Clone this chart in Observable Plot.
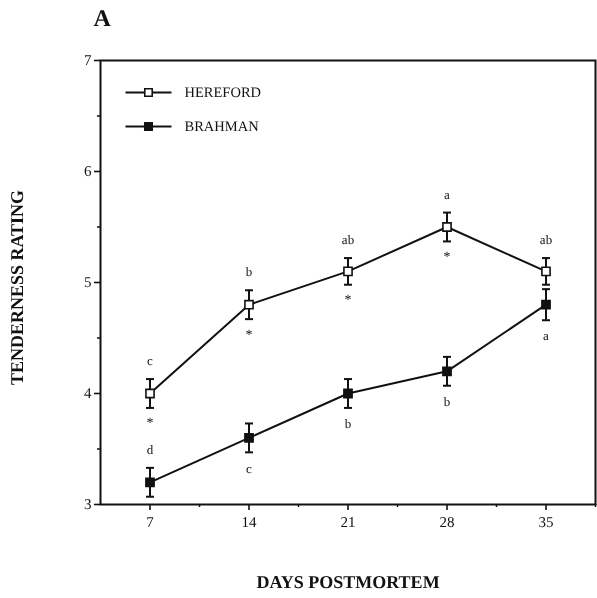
<!DOCTYPE html>
<html>
<head>
<meta charset="utf-8">
<script src="https://cdn.jsdelivr.net/npm/d3@7"></script>
<script src="https://cdn.jsdelivr.net/npm/@observablehq/plot@0.6"></script>
<style>
  html, body { margin: 0; padding: 0; background: #fff; }
  #chart { width: 597px; height: 598px; }
  #chart svg { will-change: transform; text-rendering: geometricPrecision; }
</style>
</head>
<body>
<div id="chart"></div>
<script>
// ---- data ----
const days = [7, 14, 21, 28, 35];
const herefordMean = [4.0, 4.8, 5.1, 5.5, 5.1];
const herefordSE = [0.13, 0.13, 0.12, 0.13, 0.12];
const brahmanMean = [3.2, 3.6, 4.0, 4.2, 4.8];
const brahmanSE = [0.13, 0.13, 0.13, 0.13, 0.14];
const herefordLetters = ["c", "b", "ab", "a", "ab"];
const brahmanLetters = ["d", "c", "b", "b", "a"];
const brahmanLetterAbove = [true, false, false, false, false];
const breedDiffers = [true, true, true, true, false]; // asterisk
const xTicks = [7, 14, 21, 28, 35];
const xMinorTicks = [10.5, 17.5, 24.5, 31.5, 38.5];
const yTicks = [3, 4, 5, 6, 7];
const yMinorTicks = [3.5, 4.5, 5.5, 6.5];
const seriesNames = ["HEREFORD", "BRAHMAN"];

const hereford = days.map((d, i) => ({day: d, v: herefordMean[i], e: herefordSE[i], letter: herefordLetters[i], star: breedDiffers[i]}));
const brahman = days.map((d, i) => ({day: d, v: brahmanMean[i], e: brahmanSE[i], letter: brahmanLetters[i], above: brahmanLetterAbove[i]}));

const ink = "#111";
const serif = "'Liberation Serif', 'DejaVu Serif', serif";

// horizontal bar symbol (for error caps and legend lines)
const hbar = {draw(ctx, size) { const r = Math.sqrt(size / Math.PI); ctx.moveTo(-r, 0); ctx.lineTo(r, 0); }};

function series(data, filled) {
  return [
    Plot.line(data, {x: "day", y: "v", stroke: ink, strokeWidth: 2}),
    Plot.ruleX(data, {x: "day", y1: d => d.v - d.e, y2: d => d.v + d.e, stroke: ink, strokeWidth: 2}),
    Plot.dot(data, {x: "day", y: d => d.v + d.e, symbol: hbar, r: 4, stroke: ink, strokeWidth: 2, fill: "none"}),
    Plot.dot(data, {x: "day", y: d => d.v - d.e, symbol: hbar, r: 4, stroke: ink, strokeWidth: 2, fill: "none"}),
    Plot.dot(data, {x: "day", y: "v", symbol: "square", r: 4.6, stroke: ink, strokeWidth: 1.6, fill: filled ? ink : "white"})
  ];
}

const chart = Plot.plot({
  width: 597,
  height: 598,
  marginTop: 60,
  marginLeft: 100,
  marginRight: 2,
  marginBottom: 94,
  style: {fontFamily: serif, color: ink, background: "white"},
  x: {domain: [3.5, 38.5]},
  y: {domain: [3, 7]},
  marks: [
    // axes
    Plot.axisX({ticks: xTicks, tickFormat: "d", tickSize: 6, tickPadding: 6, fontSize: 15, label: null, strokeWidth: 1.6}),
    Plot.axisX({ticks: xMinorTicks, tickSize: 3, tickFormat: () => "", label: null, strokeWidth: 1.5}),
    Plot.axisY({ticks: yTicks, tickFormat: "d", tickSize: 6, tickPadding: 3, fontSize: 15, label: null, strokeWidth: 1.6}),
    Plot.axisY({ticks: yMinorTicks, tickSize: 3, tickFormat: () => "", label: null, strokeWidth: 1.5}),
    Plot.frame({stroke: ink, strokeWidth: 2}),
    // axis titles
    Plot.text(["TENDERNESS RATING"], {frameAnchor: "left", textAnchor: "middle", lineAnchor: "middle", dx: -83, dy: 5, rotate: -90, fontSize: 18, fontWeight: "bold", fill: ink}),
    Plot.text(["DAYS POSTMORTEM"], {frameAnchor: "bottom", textAnchor: "middle", lineAnchor: "middle", dy: 78, fontSize: 18, fontWeight: "bold", fill: ink}),
    Plot.text(["A"], {frameAnchor: "top-left", textAnchor: "start", lineAnchor: "top", dx: -7, dy: -52, fontSize: 24, fontWeight: "bold", fill: ink}),
    // series
    ...series(brahman, true),
    ...series(hereford, false),
    // significance letters
    Plot.text(hereford, {x: "day", y: d => d.v + d.e, text: "letter", dy: -18, fontSize: 13, fill: ink}),
    Plot.text(hereford.filter(d => d.star), {x: "day", y: d => d.v - d.e, text: () => "*", dy: 15, fontSize: 14, fill: ink}),
    Plot.text(brahman.filter(d => d.above), {x: "day", y: d => d.v + d.e, text: "letter", dy: -18, fontSize: 13, fill: ink}),
    Plot.text(brahman.filter(d => !d.above), {x: "day", y: d => d.v - d.e, text: "letter", dy: 16, fontSize: 13, fill: ink}),
    // legend
    Plot.dot([0], {frameAnchor: "top-left", dx: 48, dy: 32, symbol: hbar, r: 23, stroke: ink, strokeWidth: 2, fill: "none"}),
    Plot.dot([0], {frameAnchor: "top-left", dx: 48, dy: 32, symbol: "square", r: 4.2, stroke: ink, strokeWidth: 1.6, fill: "white"}),
    Plot.text([seriesNames[0]], {frameAnchor: "top-left", dx: 84, dy: 32, textAnchor: "start", lineAnchor: "middle", fontSize: 14.5, fill: ink}),
    Plot.dot([0], {frameAnchor: "top-left", dx: 48, dy: 66, symbol: hbar, r: 23, stroke: ink, strokeWidth: 2, fill: "none"}),
    Plot.dot([0], {frameAnchor: "top-left", dx: 48, dy: 66, symbol: "square", r: 4.2, stroke: ink, strokeWidth: 1.6, fill: ink}),
    Plot.text([seriesNames[1]], {frameAnchor: "top-left", dx: 84, dy: 66, textAnchor: "start", lineAnchor: "middle", fontSize: 14.5, fill: ink})
  ]
});
document.getElementById("chart").append(chart);
</script>
</body>
</html>
